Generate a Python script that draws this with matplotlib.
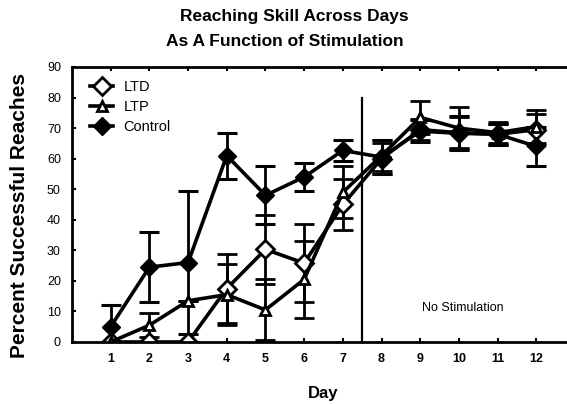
import numpy as np
import matplotlib
matplotlib.use("Agg")
import matplotlib.pyplot as plt

plt.rcParams['font.family'] = ['Liberation Sans', 'DejaVu Sans']

days = [1, 2, 3, 4, 5, 6, 7, 8, 9, 10, 11, 12]

ltd = [0, 0, 0, 17.5, 30.3, 25.8, 45, 60, 69.5, 68.5, 68, 69.5]
ltd_err = [0, 0, 0, 11.2, 11.2, 12.7, 8.5, 5, 3.5, 5, 3.5, 5]

ltp = [0, 5.5, 13.5, 15.5, 10.5, 20.5, 49, 61, 73.5, 70, 68.5, 70.5]
ltp_err = [0, 4, 0, 10, 10, 12.5, 8.5, 5, 5.5, 7, 3.5, 5.5]

control = [5, 24.5, 26, 61, 48, 54, 62.7, 60.5, 69, 68.3, 68, 64]
control_err = [7, 11.5, 23.5, 7.5, 9.5, 4.5, 3.5, 5.5, 3.5, 5.5, 3.5, 6.5]

yticks = [0, 10, 20, 30, 40, 50, 60, 70, 80, 90]

fig = plt.figure(figsize=(5.67, 4.04), dpi=100)
ax = fig.add_axes([72 / 567, 62 / 404, (575 - 72) / 567, (342 - 67) / 404])

common = dict(color='black', lw=2.6, elinewidth=2.0, capsize=7, capthick=2.2)
h_ltd = ax.errorbar(days, ltd, yerr=ltd_err, marker='D', ms=9, mfc='white', mec='black',
                    mew=2, **common)
h_ltp = ax.errorbar(days, ltp, yerr=ltp_err, marker='^', ms=7, mfc='white', mec='black',
                    mew=2, **common)
h_ctl = ax.errorbar(days, control, yerr=control_err, marker='D', ms=9, mfc='black',
                    mec='black', **common)

# stimulation stops after day 7
ax.plot([7.5, 7.5], [0, 80], color='black', lw=1.6)
ax.text(10.1, 11, 'No Stimulation', ha='center', va='center', fontsize=9)

ax.set_xlim(0, 13)
ax.set_ylim(0, 90)
ax.set_xticks(days)
ax.set_yticks(yticks)
ax.tick_params(axis='x', direction='in', length=3, width=1.5, top=True,
               labelsize=9, pad=8)
ax.tick_params(axis='y', direction='in', length=3, width=1.5, labelsize=9, pad=8)
for lab in ax.get_xticklabels():
    lab.set_fontweight('bold')
for s in ax.spines.values():
    s.set_linewidth(2)

ax.set_xlabel('Day', fontsize=12, fontweight='bold', labelpad=15)
ax.set_ylabel('Percent Successful Reaches', fontsize=15, fontweight='bold',
              va='center')
ax.yaxis.set_label_coords(-0.104, 0.46)

fig.text(294 / 567, 1 - 16 / 404, 'Reaching Skill Across Days',
         ha='center', va='center', fontsize=12.5, fontweight='bold')
fig.text(285 / 567, 1 - 41 / 404, 'As A Function of Stimulation',
         ha='center', va='center', fontsize=12.5, fontweight='bold')

# legend shows only line + marker, no error bars
ax.legend([h_ltd[0], h_ltp[0], h_ctl[0]], ['LTD', 'LTP', 'Control'],
          loc='upper left', frameon=False, fontsize=10.5, handlelength=1.6,
          handletextpad=0.7, labelspacing=0.4, borderaxespad=0.5,
          bbox_to_anchor=(0.01, 1.0))

fig.savefig('out.png', dpi=100)
